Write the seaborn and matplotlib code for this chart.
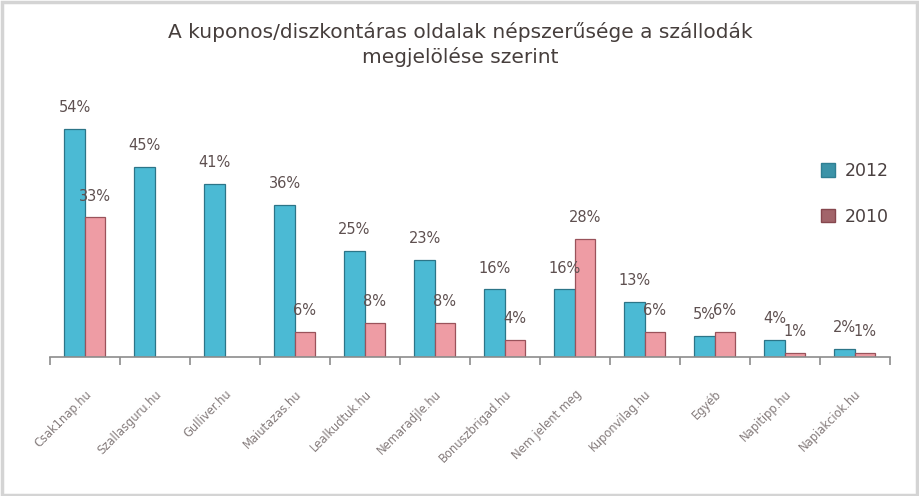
import numpy as np
import pandas as pd
import matplotlib
matplotlib.use('Agg')
import matplotlib.pyplot as plt
from matplotlib.patches import Patch, Rectangle
import seaborn as sns

sites = ['Csak1nap.hu', 'Szallasguru.hu', 'Gulliver.hu', 'Maiutazas.hu',
         'Lealkudtuk.hu', 'Nemaradjle.hu', 'Bonuszbrigad.hu', 'Nem jelent meg',
         'Kuponvilag.hu', 'Egyéb', 'Napitipp.hu', 'Napiakciok.hu']
vals_2012 = [54, 45, 41, 36, 25, 23, 16, 16, 13, 5, 4, 2]
vals_2010 = [33, np.nan, np.nan, 6, 8, 8, 4, 28, 6, 6, 1, 1]
years = ['2012', '2010']

df = pd.concat([
    pd.DataFrame({'site': sites, 'year': '2012', 'pct': vals_2012}),
    pd.DataFrame({'site': sites, 'year': '2010', 'pct': vals_2010}),
]).dropna()

sns.set_style('white')
plt.rcParams['font.family'] = ['DejaVu Sans']

fig = plt.figure(figsize=(9.2, 4.96), dpi=100)
ax = fig.add_axes([0.054, 0.28, 0.913, 0.512])

colors = {'2012': '#4BBAD4', '2010': '#EE9CA4'}
edges = {'2012': '#2C7588', '2010': '#9A535B'}
sns.barplot(data=df, x='site', y='pct', hue='year', order=sites, hue_order=years,
            palette=colors, saturation=1, width=0.58, errorbar=None, legend=False,
            ax=ax, linewidth=0)

for cont, yr in zip(ax.containers, years):
    for bar in cont:
        bar.set_edgecolor(edges[yr])
        bar.set_linewidth(0.9)
    ax.bar_label(cont, fmt='%d%%', padding=10, fontsize=10.5, color='#5E5050')

ax.set_ylim(0, 60)
ax.set_xlim(-0.5, len(sites) - 0.5)
ax.set_yticks([])
ax.set_xlabel('')
ax.set_ylabel('')
for s in ['top', 'right', 'left']:
    ax.spines[s].set_visible(False)
ax.spines['bottom'].set_color('#8C8C8C')
ax.spines['bottom'].set_linewidth(1.2)

# category boundary ticks
ax.set_xticks(np.arange(-0.5, len(sites)), minor=True)
ax.tick_params(axis='x', which='minor', length=6, color='#8C8C8C', width=1.2, bottom=True)
ax.tick_params(axis='x', which='major', length=0, pad=22)
ax.set_xticks(range(len(sites)))
ax.set_xticklabels(sites, rotation=45, ha='right', rotation_mode='anchor',
                   fontsize=8.3, color='#857C7C')

fig.suptitle('A kuponos/diszkontáras oldalak népszerűsége a szállodák\nmegjelölése szerint',
             x=0.5, y=0.955, fontsize=14.5, color='#463E3C', linespacing=1.3)

handles = [Patch(facecolor='#3B93A8', edgecolor='#2F7F93'),
           Patch(facecolor='#A2646A', edgecolor='#86474E')]
fig.legend(handles, years, loc='upper left', bbox_to_anchor=(0.875, 0.705),
           frameon=False, fontsize=12.5, labelspacing=1.6, handlelength=0.8,
           handleheight=0.8, handletextpad=0.6, labelcolor='#4A4040')

fig.patches.append(Rectangle((0.002, 0.003), 0.995, 0.993, transform=fig.transFigure,
                             fill=False, edgecolor='#D4D4D4', linewidth=2.5))

fig.savefig('out.png', dpi=100, facecolor='white')
